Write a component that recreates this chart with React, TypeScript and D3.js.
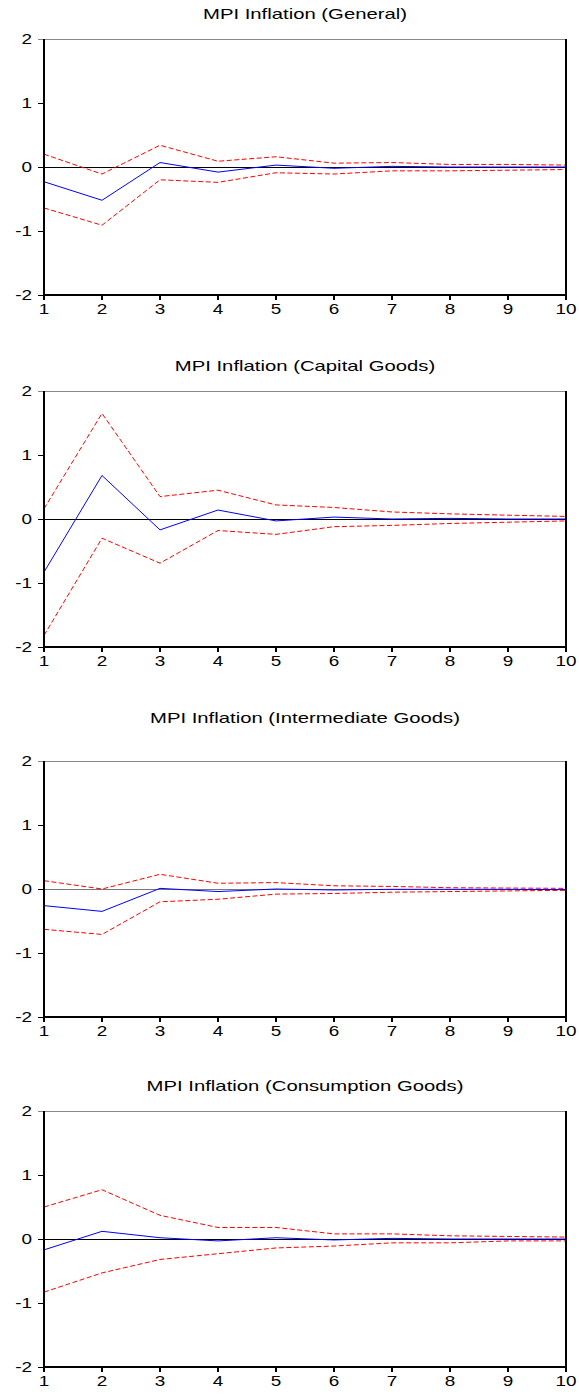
import React, { useEffect, useRef } from "react";
import * as d3 from "d3";

const periods = [1, 2, 3, 4, 5, 6, 7, 8, 9, 10];
const yTicks = [-2, -1, 0, 1, 2];

const titles = [
  "MPI Inflation (General)",
  "MPI Inflation (Capital Goods)",
  "MPI Inflation (Intermediate Goods)",
  "MPI Inflation (Consumption Goods)",
];

const generalResp = [-0.23, -0.52, 0.07, -0.08, 0.03, -0.02, 0.01, 0.0, 0.0, 0.0];
const generalUpper = [0.2, -0.11, 0.34, 0.09, 0.16, 0.06, 0.07, 0.04, 0.04, 0.03];
const generalLower = [-0.64, -0.91, -0.2, -0.24, -0.09, -0.11, -0.06, -0.06, -0.05, -0.04];

const capitalResp = [-0.83, 0.68, -0.17, 0.14, -0.03, 0.03, 0.0, 0.01, 0.0, 0.0];
const capitalUpper = [0.16, 1.65, 0.35, 0.45, 0.22, 0.18, 0.11, 0.08, 0.06, 0.04];
const capitalLower = [-1.82, -0.3, -0.69, -0.18, -0.24, -0.12, -0.1, -0.07, -0.05, -0.03];

const intermResp = [-0.26, -0.35, 0.01, -0.04, 0.0, -0.015, -0.005, -0.005, -0.005, -0.01];
const intermUpper = [0.13, 0.0, 0.23, 0.09, 0.1, 0.05, 0.04, 0.02, 0.015, 0.01];
const intermLower = [-0.63, -0.71, -0.2, -0.16, -0.08, -0.07, -0.05, -0.04, -0.03, -0.02];

const consResp = [-0.17, 0.12, 0.02, -0.03, 0.02, -0.015, 0.01, 0.0, 0.0, 0.0];
const consUpper = [0.5, 0.77, 0.37, 0.18, 0.18, 0.08, 0.08, 0.05, 0.04, 0.03];
const consLower = [-0.83, -0.53, -0.32, -0.23, -0.14, -0.11, -0.06, -0.06, -0.03, -0.03];

const panelsData = [
  { resp: generalResp, upper: generalUpper, lower: generalLower },
  { resp: capitalResp, upper: capitalUpper, lower: capitalLower },
  { resp: intermResp, upper: intermUpper, lower: intermLower },
  { resp: consResp, upper: consUpper, lower: consLower },
];

// layout
const panelLayout = [
  { titleY: 19, top: 39, bottom: 295, zeroColor: "#000" },
  { titleY: 371, top: 391, bottom: 647, zeroColor: "#000" },
  { titleY: 723, top: 761, bottom: 1017, zeroColor: "#777" },
  { titleY: 1091, top: 1111, bottom: 1367, zeroColor: "#000" },
];

const LEFT = 44;
const RIGHT = 566;
const FONT = "'Liberation Sans', Arial, sans-serif";
const SX = 1.35;

export default function App() {
  const ref = useRef<SVGSVGElement | null>(null);

  useEffect(() => {
    const svg = d3.select(ref.current);
    svg.selectAll("*").remove();
    const x = d3.scaleLinear().domain([1, 10]).range([LEFT, RIGHT]);

    panelLayout.forEach((pl, i) => {
      const d = panelsData[i];
      const y = d3.scaleLinear().domain([-2, 2]).range([pl.bottom, pl.top]);
      const g = svg.append("g");

      // title
      g.append("text")
        .attr("transform", `translate(${(LEFT + RIGHT) / 2},${pl.titleY}) scale(1.45,1)`)
        .attr("text-anchor", "middle")
        .attr("font-family", FONT)
        .attr("font-size", 14)
        .attr("fill", "#000")
        .text(titles[i]);

      // zero line
      g.append("line")
        .attr("x1", LEFT)
        .attr("x2", RIGHT)
        .attr("y1", y(0) + 0.5)
        .attr("y2", y(0) + 0.5)
        .attr("stroke", pl.zeroColor)
        .attr("stroke-width", 1);

      // y ticks
      yTicks.forEach((t) => {
        g.append("line")
          .attr("x1", LEFT - 6)
          .attr("x2", LEFT)
          .attr("y1", y(t) + 0.5)
          .attr("y2", y(t) + 0.5)
          .attr("stroke", t === 2 ? "#888" : "#000")
          .attr("stroke-width", 1);
        g.append("text")
          .attr("transform", `translate(${LEFT - 12},${y(t) + 5}) scale(${SX},1)`)
          .attr("text-anchor", "end")
          .attr("font-family", FONT)
          .attr("font-size", 14)
          .attr("fill", "#000")
          .text(String(t));
      });

      // x ticks
      periods.forEach((p) => {
        g.append("line")
          .attr("x1", Math.round(x(p)))
          .attr("x2", Math.round(x(p)))
          .attr("y1", pl.bottom)
          .attr("y2", pl.bottom + 5)
          .attr("stroke", "#000")
          .attr("stroke-width", 2);
        g.append("text")
          .attr("transform", `translate(${x(p)},${pl.bottom + 19}) scale(${SX},1)`)
          .attr("text-anchor", "middle")
          .attr("font-family", FONT)
          .attr("font-size", 14)
          .attr("fill", "#000")
          .text(String(p));
      });

      const line = d3
        .line<number>()
        .x((_, k) => x(periods[k]))
        .y((v) => y(v));

      g.append("path")
        .attr("d", line(d.upper) as string)
        .attr("fill", "none")
        .attr("stroke", "#ff0000")
        .attr("stroke-width", 1)
        .attr("stroke-dasharray", "5,2.5");
      g.append("path")
        .attr("d", line(d.lower) as string)
        .attr("fill", "none")
        .attr("stroke", "#ff0000")
        .attr("stroke-width", 1)
        .attr("stroke-dasharray", "5,2.5");
      g.append("path")
        .attr("d", line(d.resp) as string)
        .attr("fill", "none")
        .attr("stroke", "#0000ff")
        .attr("stroke-width", 1);

      // frame
      g.append("line")
        .attr("x1", LEFT)
        .attr("x2", RIGHT)
        .attr("y1", pl.top + 0.5)
        .attr("y2", pl.top + 0.5)
        .attr("stroke", "#888")
        .attr("stroke-width", 1);
      g.append("line")
        .attr("x1", LEFT)
        .attr("x2", LEFT)
        .attr("y1", pl.top)
        .attr("y2", pl.bottom)
        .attr("stroke", "#000")
        .attr("stroke-width", 2);
      g.append("line")
        .attr("x1", RIGHT)
        .attr("x2", RIGHT)
        .attr("y1", pl.top)
        .attr("y2", pl.bottom)
        .attr("stroke", "#000")
        .attr("stroke-width", 2);
      g.append("line")
        .attr("x1", LEFT - 1)
        .attr("x2", RIGHT + 1)
        .attr("y1", pl.bottom)
        .attr("y2", pl.bottom)
        .attr("stroke", "#000")
        .attr("stroke-width", 2);
    });
  }, []);

  return (
    <svg
      ref={ref}
      width={579}
      height={1395}
      style={{ position: "absolute", left: 0, top: 0, background: "#fff" }}
    />
  );
}
